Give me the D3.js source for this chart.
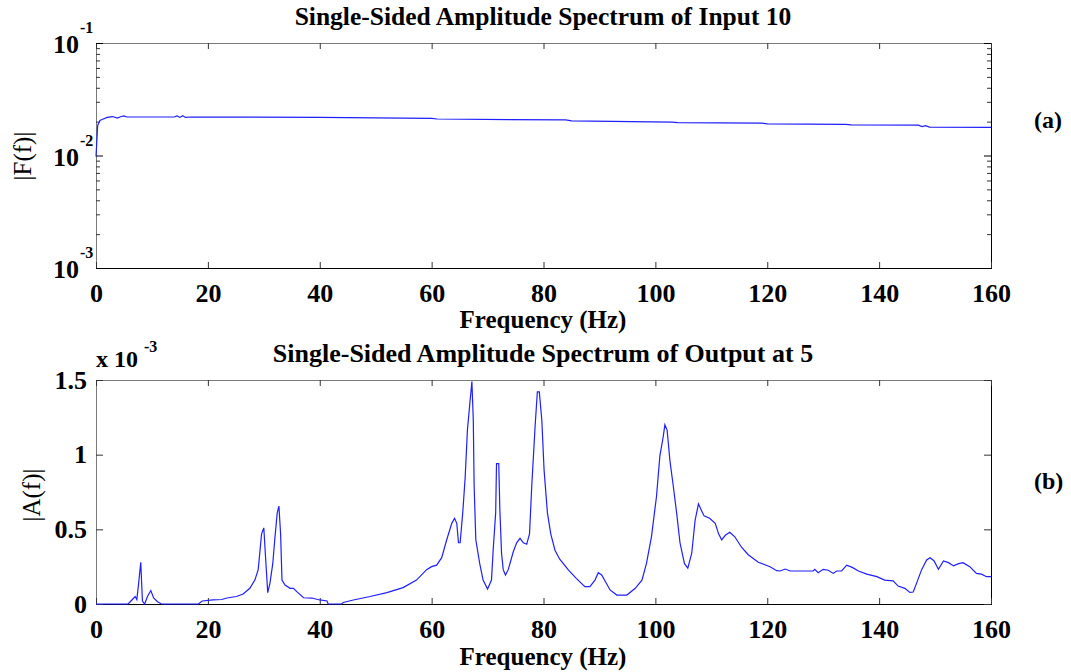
<!DOCTYPE html>
<html>
<head>
<meta charset="utf-8">
<script src="https://cdn.jsdelivr.net/npm/d3@7"></script>
<style>
  html, body { margin: 0; padding: 0; background: #fff; }
  svg { display: block; }
  text { font-family: "Liberation Serif", "Times New Roman", serif; }
</style>
</head>
<body>
<svg id="chart" width="1071" height="672"></svg>
<script>
// ---- Data ----
const inputFreq = [0, 0.3, 0.7, 1.2, 2, 3, 3.8, 4.5, 5, 5.5, 14, 14.5, 15, 15.5, 16, 17, 40, 60, 61, 84, 85, 103, 104, 119, 120, 134, 135, 147, 147.7, 148.3, 149, 160];
const inputAmp  = [0.0098, 0.0185, 0.0205, 0.021, 0.0218, 0.0222, 0.0215, 0.0222, 0.0225, 0.022, 0.022, 0.0225, 0.0218, 0.0226, 0.0218, 0.022, 0.0218, 0.0214, 0.0211, 0.0207, 0.0203, 0.0198, 0.0196, 0.0194, 0.0191, 0.0189, 0.0187, 0.0186, 0.0181, 0.0184, 0.0179, 0.0178];

const outputFreq = [0, 5.7, 6.0, 6.5, 7.0, 7.3, 7.6, 8.0, 8.3, 8.7, 9.2, 9.8, 10.3, 11.0, 11.7, 18.3, 19.0, 20.9, 22.5, 23.4, 25.1, 26.3, 27.5, 28.4, 29.0, 29.6, 30.0, 30.3, 30.7, 31.1, 31.6, 32.0, 32.4, 32.7, 33.0, 33.25, 33.8, 34.7, 35.3, 35.9, 37.1, 38.6, 40.0, 41.3, 41.5, 43.9, 44.2, 46.0, 49.0, 52.0, 54.9, 57.3, 59.1, 60.0, 60.9, 61.8, 62.7, 63.6, 64.1, 64.5, 64.8, 65.1, 65.6, 66.0, 66.4, 66.9, 67.2, 67.45, 67.6, 67.9, 68.6, 69.2, 70.0, 70.7, 71.0, 71.45, 71.6, 72.0, 72.2, 72.5, 72.8, 73.2, 73.7, 74.6, 75.2, 75.8, 76.4, 77.0, 77.5, 77.9, 78.5, 78.9, 79.25, 79.7, 80.1, 80.7, 81.3, 82.05, 82.9, 84.4, 85.9, 87.4, 88.3, 89.2, 89.8, 90.4, 91.9, 93.1, 94.9, 96.4, 97.6, 98.4, 99.3, 100.2, 100.8, 101.4, 101.7, 102.1, 102.6, 103.2, 103.8, 104.4, 105.2, 105.8, 106.5, 107.1, 107.7, 108.2, 108.7, 109.7, 110.7, 111.3, 111.85, 112.5, 113.3, 114.2, 115.4, 116.6, 118.4, 120.5, 121.7, 122.3, 123.2, 124.1, 128.2, 128.5, 129.1, 130.0, 130.9, 131.8, 132.4, 133.3, 134.2, 135.2, 136.3, 137.8, 139.6, 141.0, 142.5, 143.4, 144.6, 145.5, 146.1, 146.7, 147.6, 148.5, 149.1, 149.8, 150.6, 151.5, 152.4, 153.3, 154.2, 155.0, 156.2, 157.4, 158.3, 159.2, 160];
const outputAmp = [0, 0, 0.01, 0.03, 0.05, 0.03, 0.13, 0.28, 0.02, 0.0, 0.05, 0.09, 0.04, 0.015, 0, 0, 0.02, 0.027, 0.03, 0.04, 0.05, 0.067, 0.105, 0.16, 0.23, 0.47, 0.51, 0.32, 0.076, 0.14, 0.27, 0.45, 0.61, 0.656, 0.47, 0.16, 0.127, 0.105, 0.105, 0.083, 0.042, 0.04, 0.027, 0.02, 0.0, 0.0, 0.01, 0.027, 0.05, 0.076, 0.11, 0.16, 0.23, 0.25, 0.26, 0.31, 0.43, 0.54, 0.574, 0.54, 0.41, 0.41, 0.63, 0.85, 1.165, 1.37, 1.49, 1.23, 0.79, 0.43, 0.27, 0.16, 0.10, 0.16, 0.36, 0.61, 0.94, 0.94, 0.63, 0.34, 0.23, 0.194, 0.23, 0.35, 0.41, 0.44, 0.41, 0.40, 0.47, 0.79, 1.19, 1.42, 1.42, 1.23, 0.90, 0.61, 0.47, 0.36, 0.30, 0.23, 0.17, 0.116, 0.116, 0.16, 0.21, 0.194, 0.094, 0.06, 0.06, 0.105, 0.16, 0.27, 0.45, 0.72, 0.99, 1.12, 1.20, 1.165, 0.96, 0.79, 0.61, 0.41, 0.27, 0.24, 0.34, 0.56, 0.67, 0.63, 0.59, 0.574, 0.54, 0.47, 0.43, 0.46, 0.48, 0.45, 0.38, 0.33, 0.28, 0.25, 0.223, 0.221, 0.234, 0.221, 0.221, 0.232, 0.21, 0.232, 0.226, 0.205, 0.221, 0.221, 0.26, 0.245, 0.221, 0.20, 0.183, 0.16, 0.155, 0.12, 0.105, 0.078, 0.08, 0.14, 0.23, 0.295, 0.31, 0.29, 0.232, 0.288, 0.277, 0.255, 0.27, 0.277, 0.25, 0.205, 0.20, 0.183, 0.183];

const xTicks = [0, 20, 40, 60, 80, 100, 120, 140, 160];
const logMajorTicks = [0.1, 0.01, 0.001];
const logMajorExp = ["-1", "-2", "-3"];
const linTicks = [0, 0.5, 1, 1.5];
const linTickLabels = ["0", "0.5", "1", "1.5"];

const titleA = "Single-Sided Amplitude Spectrum of Input 10";
const titleB = "Single-Sided Amplitude Spectrum of Output at 5";
const xLabel = "Frequency (Hz)";

// ---- Layout ----
const svg = d3.select("#chart");
const L = 96, R = 991;
const A = { top: 43, bottom: 268 };
const B = { top: 380, bottom: 604 };
const lineColor = "#1f1fff";

const x = d3.scaleLinear().domain([0, 160]).range([L, R]);
const yA = d3.scaleLog().domain([0.001, 0.1]).range([A.bottom, A.top]);
const yB = d3.scaleLinear().domain([0, 1.5]).range([B.bottom, B.top]);

const logMinor = [];
[0.001, 0.01].forEach(d => { for (let k = 2; k <= 9; k++) logMinor.push(d * k); });

function frame(P) {
  const g = svg.append("g");
  g.append("line").attr("x1", L).attr("x2", R).attr("y1", P.top + 0.5).attr("y2", P.top + 0.5).attr("stroke", "#7a7a7a");
  g.append("line").attr("x1", L + 0.5).attr("x2", L + 0.5).attr("y1", P.top).attr("y2", P.bottom).attr("stroke", "#7a7a7a");
  g.append("line").attr("x1", L).attr("x2", R + 1).attr("y1", P.bottom + 0.5).attr("y2", P.bottom + 0.5).attr("stroke", "#000");
  g.append("line").attr("x1", R + 0.5).attr("x2", R + 0.5).attr("y1", P.top).attr("y2", P.bottom + 1).attr("stroke", "#000");
}

function styleAxis(g, color) {
  g.select(".domain").remove();
  g.selectAll(".tick line").attr("stroke", color || "#333");
}

function xAxes(P) {
  const gb = svg.append("g").attr("transform", `translate(0,${P.bottom})`)
    .call(d3.axisBottom(x).tickValues(xTicks).tickSize(-6).tickPadding(16).tickFormat(d3.format("d")));
  styleAxis(gb, "#333");
  gb.selectAll(".tick text").attr("font-size", 26).attr("font-weight", "bold").attr("fill", "#000")
    .attr("font-family", "Liberation Serif, serif").attr("dy", "0.71em");
  const gt = svg.append("g").attr("transform", `translate(0,${P.top})`)
    .call(d3.axisTop(x).tickValues(xTicks).tickSize(-6).tickFormat(""));
  styleAxis(gt, "#333");
}

// ---- Panel (a) ----
frame(A);
xAxes(A);
[["left", L, d3.axisLeft], ["right", R, d3.axisRight]].forEach(([side, px, fn]) => {
  const gMaj = svg.append("g").attr("transform", `translate(${px},0)`)
    .call(fn(yA).tickValues(logMajorTicks).tickSize(-7).tickFormat(""));
  styleAxis(gMaj, "#000");
  const gMin = svg.append("g").attr("transform", `translate(${px},0)`)
    .call(fn(yA).tickValues(logMinor).tickSize(-4).tickFormat(""));
  styleAxis(gMin, "#333");
});
logMajorTicks.forEach((v, i) => {
  svg.append("text").attr("x", 79).attr("y", yA(v) + 10)
    .attr("text-anchor", "end").attr("font-size", 26).attr("font-weight", "bold").text("10");
  svg.append("text").attr("x", 80).attr("y", yA(v) - 10)
    .attr("font-size", 16).attr("font-weight", "bold").text(logMajorExp[i]);
});

svg.append("path")
  .datum(inputFreq.map((f, i) => [f, inputAmp[i]]))
  .attr("fill", "none").attr("stroke", lineColor).attr("stroke-width", 1.2)
  .attr("d", d3.line().x(d => x(d[0])).y(d => yA(d[1])));

svg.append("text").attr("x", 543).attr("y", 25).attr("text-anchor", "middle")
  .attr("font-size", 25.5).attr("font-weight", "bold").text(titleA);
svg.append("text").attr("x", 543).attr("y", 328).attr("text-anchor", "middle")
  .attr("font-size", 25).attr("font-weight", "bold").text(xLabel);
svg.append("text").attr("transform", `translate(31,156) rotate(-90)`).attr("text-anchor", "middle")
  .attr("font-size", 25).text("|F(f)|");
svg.append("text").attr("x", 1034).attr("y", 128)
  .attr("font-size", 24).attr("font-weight", "bold").text("(a)");

// ---- Panel (b) ----
frame(B);
xAxes(B);
[[L, d3.axisLeft], [R, d3.axisRight]].forEach(([px, fn], k) => {
  const g = svg.append("g").attr("transform", `translate(${px},0)`)
    .call(fn(yB).tickValues(linTicks).tickSize(-7).tickPadding(9)
      .tickFormat((d, i) => k === 0 ? linTickLabels[i] : ""));
  styleAxis(g, "#333");
  g.selectAll(".tick text").attr("font-size", 26).attr("font-weight", "bold").attr("fill", "#000")
    .attr("font-family", "Liberation Serif, serif");
});

svg.append("path")
  .datum(outputFreq.map((f, i) => [f, outputAmp[i]]))
  .attr("fill", "none").attr("stroke", lineColor).attr("stroke-width", 1.2)
  .attr("d", d3.line().x(d => x(d[0])).y(d => yB(d[1])));

svg.append("text").attr("x", 543).attr("y", 362).attr("text-anchor", "middle")
  .attr("font-size", 26).attr("font-weight", "bold").text(titleB);
svg.append("text").attr("x", 543).attr("y", 665).attr("text-anchor", "middle")
  .attr("font-size", 25).attr("font-weight", "bold").text(xLabel);
svg.append("text").attr("transform", `translate(40,495) rotate(-90)`).attr("text-anchor", "middle")
  .attr("font-size", 25).text("|A(f)|");
svg.append("text").attr("x", 1034).attr("y", 489)
  .attr("font-size", 24).attr("font-weight", "bold").text("(b)");
svg.append("text").attr("x", 96).attr("y", 367)
  .attr("font-size", 24).attr("font-weight", "bold").text("x 10");
svg.append("text").attr("x", 144).attr("y", 352)
  .attr("font-size", 16).attr("font-weight", "bold").text("-3");
</script>
</body>
</html>
